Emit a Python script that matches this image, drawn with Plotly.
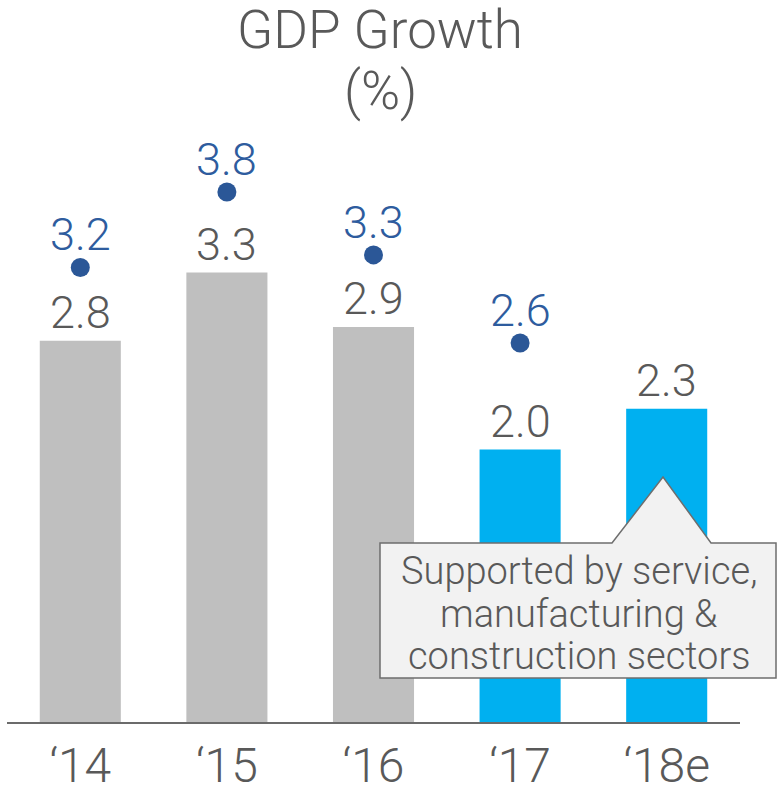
import plotly.graph_objects as go

# GDP growth, actual (bars) and the earlier forecast (dots)
years = ["\u201814", "\u201815", "\u201816", "\u201817", "\u201818e"]
growth = [2.8, 3.3, 2.9, 2.0, 2.3]
forecast_years = ["\u201814", "\u201815", "\u201816", "\u201817"]
forecast = [3.2, 3.8, 3.3, 2.6]
bar_colors = ["#BFBFBF", "#BFBFBF", "#BFBFBF", "#00B0F0", "#00B0F0"]
callout_lines = ["Supported by service,", "manufacturing &", "construction sectors"]

W, H = 777, 793
ML, MR, MT, MB = 7, 37, 0, 71
PW, PH = W - ML - MR, H - MT - MB

FONT = "Roboto"
GREY_TXT = "#595959"
DOT = "#2B5797"
DOT_TXT = "#2E5C9E"


def px(x):
    return (x - ML) / PW


def py(y):
    return (H - MB - y) / PH


fig = go.Figure()

fig.add_trace(go.Bar(
    x=years, y=growth, marker=dict(color=bar_colors, line=dict(width=0)),
    hoverinfo="skip", showlegend=False,
))
fig.add_trace(go.Scatter(
    x=forecast_years, y=forecast, yaxis="y2", mode="markers",
    marker=dict(color=DOT, size=19), hoverinfo="skip", showlegend=False,
))

annotations = []
for x, v in zip(years, growth):
    annotations.append(dict(
        x=x, y=v, xref="x", yref="y", text=f"{v:.1f}", showarrow=False,
        yanchor="bottom", yshift=0,
        font=dict(family=FONT, size=45, color=GREY_TXT, weight=300),
    ))
for x, v in zip(forecast_years, forecast):
    annotations.append(dict(
        x=x, y=v, xref="x", yref="y2", text=f"{v:.1f}", showarrow=False,
        yanchor="bottom", yshift=4,
        font=dict(family=FONT, size=45, color=DOT_TXT, weight=300),
    ))

# chart title, two lines
title_font = dict(family=FONT, size=53, color=GREY_TXT, weight=300)
annotations.append(dict(
    x=px(380), y=1.0, xref="paper", yref="paper", yanchor="top", yshift=3,
    text="GDP Growth", showarrow=False, font=title_font,
))
annotations.append(dict(
    x=px(380), y=py(124), xref="paper", yref="paper", yanchor="bottom",
    text="(%)", showarrow=False, font=title_font,
))

# callout box with a pointer up to the '18e bar
box_l, box_r, box_t, box_b = 380, 776, 543, 678
tip_l, tip_x, tip_y, tip_r = 612, 663, 477, 711
path = (
    f"M {px(box_l)},{py(box_t)} L {px(tip_l)},{py(box_t)} "
    f"L {px(tip_x)},{py(tip_y)} L {px(tip_r)},{py(box_t)} "
    f"L {px(box_r)},{py(box_t)} L {px(box_r)},{py(box_b)} "
    f"L {px(box_l)},{py(box_b)} Z"
)
shapes = [dict(
    type="path", xref="paper", yref="paper", path=path,
    fillcolor="#F2F2F2", line=dict(color="#6E6E6E", width=1.5), layer="above",
)]
for line, base in zip(callout_lines, [595, 638, 680]):
    annotations.append(dict(
        x=px((box_l + box_r) / 2 + 1), y=py(base), xref="paper", yref="paper",
        text=line, showarrow=False, xanchor="center", yanchor="bottom",
        font=dict(family=FONT, size=38, color=GREY_TXT, weight=300),
    ))

fig.update_layout(
    width=W, height=H,
    margin=dict(l=ML, r=MR, t=MT, b=MB, pad=0, autoexpand=False),
    paper_bgcolor="white", plot_bgcolor="white",
    bargap=0.447,
    xaxis=dict(
        type="category", showgrid=False, zeroline=False, automargin=False,
        showline=True, linecolor="#6B6B6B", linewidth=2,
        ticks="", ticklabelstandoff=0,
        tickfont=dict(family=FONT, size=48, color=GREY_TXT, weight=300),
        range=[-0.5, 4.5], fixedrange=True,
    ),
    yaxis=dict(
        range=[0, PH / 136.2], visible=False, showgrid=False, zeroline=False,
        fixedrange=True, automargin=False,
    ),
    yaxis2=dict(
        overlaying="y", range=[-0.413, -0.413 + PH / 125.8], visible=False,
        showgrid=False, zeroline=False, fixedrange=True, automargin=False,
    ),
    annotations=annotations,
    shapes=shapes,
)

fig.write_html("out.html")
